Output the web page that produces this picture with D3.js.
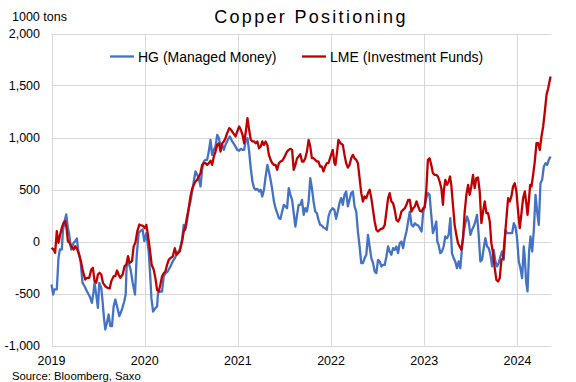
<!DOCTYPE html>
<html><head><meta charset="utf-8">
<script src="https://cdn.jsdelivr.net/npm/d3@7"></script>
<style>
body{margin:0;background:#fff}
svg{display:block}
text{font-family:"Liberation Sans",Arial,sans-serif;fill:#000}
</style>
</head><body><svg id="c" width="576" height="382"></svg>
<script>
const title = "Copper Positioning";
const unitLabel = "1000 tons";
const sourceNote = "Source: Bloomberg, Saxo";
const seriesNames = ["HG (Managed Money)", "LME (Investment Funds)"];
const seriesColors = ["#4472C4", "#C00000"];
const yTicks = [-1000, -500, 0, 500, 1000, 1500, 2000];
const xTicks = [2019, 2020, 2021, 2022, 2023, 2024];

const hgYears = [
2019.000,2019.018,2019.032,2019.057,2019.075,2019.090,2019.111,2019.122,2019.140,2019.158,2019.176,2019.190,2019.211,2019.237,2019.254,2019.272,2019.290,2019.312,2019.333,2019.355,2019.380,2019.409,2019.434,2019.452,2019.462,2019.480,2019.498,2019.513,2019.534,2019.548,2019.563,2019.577,2019.595,2019.613,2019.631,2019.649,2019.667,2019.685,2019.703,2019.728,2019.756,2019.781,2019.796,2019.806,2019.828,2019.849,2019.871,2019.896,2019.914,2019.935,2019.961,2019.978,2019.996,
2020.018,2020.043,2020.061,2020.072,2020.090,2020.115,2020.133,2020.143,2020.168,2020.186,2020.204,2020.222,2020.247,2020.276,2020.301,2020.323,2020.348,2020.376,2020.401,2020.419,2020.437,2020.459,2020.473,2020.491,2020.509,2020.527,2020.545,2020.563,2020.581,2020.599,2020.616,2020.634,2020.652,2020.670,2020.688,2020.706,2020.724,2020.742,2020.760,2020.778,2020.796,2020.814,2020.832,2020.849,2020.867,2020.892,2020.914,2020.939,2020.964,2020.993,
2021.014,2021.032,2021.050,2021.067,2021.085,2021.103,2021.121,2021.138,2021.156,2021.174,2021.191,2021.209,2021.227,2021.245,2021.262,2021.280,2021.298,2021.316,2021.333,2021.351,2021.369,2021.387,2021.404,2021.422,2021.440,2021.457,2021.475,2021.493,2021.511,2021.528,2021.546,2021.564,2021.582,2021.599,2021.617,2021.635,2021.652,2021.670,2021.688,2021.706,2021.723,2021.741,2021.759,2021.777,2021.794,2021.812,2021.830,2021.848,2021.865,2021.883,2021.901,2021.918,2021.936,2021.954,2021.972,2021.989,
2022.018,2022.036,2022.054,2022.072,2022.090,2022.108,2022.126,2022.144,2022.162,2022.180,2022.198,2022.216,2022.234,2022.252,2022.270,2022.288,2022.306,2022.324,2022.342,2022.360,2022.378,2022.396,2022.414,2022.432,2022.450,2022.468,2022.486,2022.504,2022.522,2022.540,2022.558,2022.576,2022.594,2022.612,2022.629,2022.647,2022.665,2022.683,2022.701,2022.719,2022.737,2022.755,2022.773,2022.791,2022.809,2022.827,2022.845,2022.863,2022.881,2022.899,2022.917,2022.935,2022.953,2022.971,2022.989,
2023.004,2023.022,2023.039,2023.057,2023.075,2023.093,2023.111,2023.129,2023.140,2023.154,2023.172,2023.190,2023.208,2023.226,2023.244,2023.262,2023.280,2023.297,2023.315,2023.333,2023.351,2023.369,2023.387,2023.405,2023.423,2023.441,2023.459,2023.477,2023.495,2023.513,2023.530,2023.548,2023.566,2023.584,2023.602,2023.620,2023.638,2023.656,2023.674,2023.692,2023.710,2023.728,2023.746,2023.763,2023.781,2023.799,2023.817,2023.835,2023.853,2023.871,2023.889,2023.907,2023.925,2023.943,2023.961,2023.978,2023.996,
2024.014,2024.032,2024.050,2024.068,2024.079,2024.093,2024.108,2024.125,2024.140,2024.158,2024.176,2024.194,2024.211,2024.229,2024.247,2024.265,2024.283,2024.301,2024.319,2024.337,2024.355
];
const hgValues = [
-413,-510,-460,-461,-157,-77,-77,100,195,260,131,67,-77,-13,3,29,-109,-189,-397,-430,-478,-526,-590,-478,-397,-510,-638,-397,-446,-574,-734,-846,-782,-702,-814,-814,-622,-558,-622,-718,-654,-574,-510,-237,-205,-269,-397,-510,-141,83,106,115,3,
80,-96,-353,-545,-673,-641,-625,-497,-481,-481,-337,-305,-289,-240,-192,-160,-112,-80,16,160,112,224,320,385,481,577,673,641,609,529,689,769,785,785,865,978,833,881,913,1026,994,913,929,881,929,978,1010,962,929,881,
872,891,881,881,978,994,865,705,577,513,497,506,481,497,433,497,625,737,673,593,497,385,320,272,224,218,288,352,337,320,513,449,400,272,144,256,352,352,400,256,320,288,385,609,513,385,288,272,208,160,154,135,128,112,240,288,
320,304,218,288,368,417,353,449,481,337,401,465,481,337,288,96,-48,-208,-208,-160,-128,64,-48,-160,-208,-288,-304,-176,-192,-240,-224,-224,-144,-48,-96,-128,-64,-80,-48,-112,-16,0,-64,32,96,192,288,160,144,176,160,154,128,96,288,
330,417,465,449,256,80,128,192,0,-32,-112,-96,-48,48,32,64,224,-112,-160,-192,-256,-192,-256,-64,96,176,240,192,64,112,144,192,256,64,-192,-176,-64,32,-48,-64,-128,-240,-80,-192,-240,-208,-144,-96,-176,112,80,80,80,80,176,144,32,
-192,-256,-353,-48,-160,-385,-480,-96,48,-96,112,449,288,160,561,593,721,753,737,785,817
];

const lmeYears = [
2019.000,2019.022,2019.039,2019.057,2019.075,2019.093,2019.111,2019.129,2019.147,2019.161,2019.176,2019.194,2019.211,2019.237,2019.254,2019.276,2019.297,2019.319,2019.337,2019.362,2019.380,2019.405,2019.427,2019.444,2019.462,2019.480,2019.498,2019.516,2019.534,2019.552,2019.577,2019.602,2019.624,2019.642,2019.667,2019.685,2019.703,2019.720,2019.738,2019.763,2019.785,2019.803,2019.821,2019.839,2019.864,2019.882,2019.900,2019.921,2019.943,2019.964,2019.982,
2020.000,2020.018,2020.032,2020.054,2020.075,2020.097,2020.115,2020.133,2020.151,2020.168,2020.186,2020.204,2020.222,2020.240,2020.258,2020.276,2020.301,2020.323,2020.341,2020.358,2020.376,2020.401,2020.419,2020.437,2020.455,2020.473,2020.491,2020.509,2020.527,2020.545,2020.563,2020.581,2020.599,2020.616,2020.634,2020.652,2020.670,2020.688,2020.706,2020.724,2020.742,2020.760,2020.778,2020.796,2020.814,2020.832,2020.849,2020.867,2020.885,2020.907,2020.928,2020.950,2020.975,2020.993,
2021.014,2021.032,2021.050,2021.067,2021.085,2021.103,2021.121,2021.138,2021.156,2021.174,2021.191,2021.209,2021.227,2021.245,2021.262,2021.280,2021.298,2021.316,2021.333,2021.351,2021.369,2021.387,2021.404,2021.422,2021.440,2021.457,2021.475,2021.493,2021.511,2021.528,2021.546,2021.564,2021.582,2021.599,2021.617,2021.635,2021.652,2021.670,2021.688,2021.706,2021.723,2021.741,2021.759,2021.777,2021.794,2021.812,2021.830,2021.848,2021.865,2021.883,2021.901,2021.918,2021.936,2021.954,2021.972,2021.989,
2022.018,2022.036,2022.047,2022.065,2022.079,2022.101,2022.126,2022.144,2022.162,2022.180,2022.198,2022.216,2022.234,2022.252,2022.270,2022.288,2022.306,2022.324,2022.342,2022.360,2022.378,2022.396,2022.414,2022.432,2022.450,2022.468,2022.486,2022.504,2022.522,2022.540,2022.558,2022.576,2022.594,2022.612,2022.629,2022.647,2022.665,2022.683,2022.701,2022.719,2022.737,2022.755,2022.773,2022.791,2022.809,2022.827,2022.845,2022.863,2022.881,2022.899,2022.917,2022.935,2022.953,2022.971,2022.989,
2023.004,2023.022,2023.039,2023.057,2023.075,2023.093,2023.111,2023.129,2023.147,2023.165,2023.183,2023.201,2023.211,2023.226,2023.244,2023.262,2023.276,2023.290,2023.308,2023.326,2023.344,2023.362,2023.380,2023.398,2023.416,2023.434,2023.452,2023.470,2023.487,2023.505,2023.523,2023.541,2023.559,2023.577,2023.595,2023.613,2023.631,2023.649,2023.667,2023.685,2023.703,2023.720,2023.738,2023.756,2023.774,2023.792,2023.810,2023.828,2023.846,2023.864,2023.882,2023.900,2023.918,2023.935,2023.953,2023.971,2023.989,
2024.007,2024.025,2024.043,2024.061,2024.079,2024.097,2024.108,2024.122,2024.136,2024.151,2024.168,2024.186,2024.204,2024.222,2024.240,2024.258,2024.276,2024.294,2024.312,2024.330,2024.355
];
const lmeValues = [
-61,-77,-109,99,-13,67,131,180,196,131,3,-13,-45,-77,-45,-77,-125,-205,-285,-365,-349,-349,-269,-253,-381,-397,-317,-301,-317,-397,-430,-446,-452,-381,-333,-333,-279,-317,-349,-317,-237,-221,-141,-205,-189,-45,-13,99,163,154,150,
128,160,80,-64,-224,-272,-352,-465,-481,-416,-337,-305,-289,-224,-176,-160,-144,-64,-128,-112,-96,0,96,144,240,320,433,506,545,577,593,625,657,737,753,753,737,753,776,737,817,865,929,945,865,945,962,994,1042,1090,1074,1042,1010,1058,
1106,1074,1026,945,1058,1186,1074,978,962,962,945,962,897,913,962,929,962,929,833,785,753,737,737,689,753,769,776,801,833,865,881,891,881,689,737,801,817,840,769,769,801,865,978,913,801,801,785,769,769,721,721,673,721,753,753,801,
881,753,737,865,978,945,929,833,753,711,737,801,833,801,785,753,609,465,385,433,417,465,497,417,304,192,112,96,112,122,128,160,288,417,465,385,369,304,208,192,224,288,304,320,353,401,401,288,320,337,385,337,295,288,320,
330,497,785,801,737,657,641,641,625,577,513,353,497,593,545,577,625,545,353,160,64,-16,-48,-80,32,288,449,545,449,529,641,513,609,615,481,176,288,385,272,272,192,-16,-112,-256,-369,-385,-353,-176,-160,32,224,417,385,433,529,561,481,
288,128,272,417,481,353,256,385,545,529,641,769,945,945,881,1010,1106,1250,1410,1474,1587
];

const svg = d3.select("#c");
const x = d3.scaleLinear().domain([2019, 2024.36]).range([51.5, 551]);
const y = d3.scaleLinear().domain([-1000, 2000]).range([345.5, 33.5]);
const fmt = v => d3.format(",")(v).replace("\u2212", "-");
const gridColor = "#d9d9d9";

// horizontal gridlines
svg.append("g").selectAll("line").data(yTicks).join("line")
  .attr("x1", x(2019)).attr("x2", x.range()[1])
  .attr("y1", d => Math.round(y(d)) + 0.5).attr("y2", d => Math.round(y(d)) + 0.5)
  .attr("stroke", gridColor).attr("stroke-width", 1);
// vertical gridlines
svg.append("g").selectAll("line").data(xTicks).join("line")
  .attr("x1", d => Math.round(x(d)) + 0.5).attr("x2", d => Math.round(x(d)) + 0.5)
  .attr("y1", y(2000)).attr("y2", y(-1000))
  .attr("stroke", gridColor).attr("stroke-width", 1);

// y tick labels
svg.append("g").selectAll("text").data(yTicks).join("text")
  .attr("x", 40).attr("y", d => y(d))
  .attr("text-anchor", "end").attr("dominant-baseline", "central")
  .style("font-size", "12.5px").text(fmt);
// x tick labels
svg.append("g").selectAll("text").data(xTicks).join("text")
  .attr("x", d => x(d)).attr("y", 361)
  .attr("text-anchor", "middle").attr("dominant-baseline", "central")
  .style("font-size", "12.5px").text(d => d);

// titles
svg.append("text").attr("x", 311).attr("y", 17).attr("text-anchor", "middle")
  .attr("dominant-baseline", "central").style("font-size", "18px")
  .style("letter-spacing", "2.3px").text(title);
svg.append("text").attr("x", 12).attr("y", 17)
  .attr("dominant-baseline", "central").style("font-size", "12.5px").text(unitLabel);
svg.append("text").attr("x", 12).attr("y", 376)
  .attr("dominant-baseline", "central").style("font-size", "11.3px").text(sourceNote);

// series
const line = d3.line().x(d => x(d[0])).y(d => y(d[1]));
const series = [
  d3.zip(hgYears, hgValues),
  d3.zip(lmeYears, lmeValues)
];
series.forEach((s, i) => {
  svg.append("path").datum(s)
    .attr("fill", "none").attr("stroke", seriesColors[i])
    .attr("stroke-width", 2.3).attr("stroke-linejoin", "round")
    .attr("d", line);
});

// legend
const legendX = [110, 302];
seriesNames.forEach((name, i) => {
  const g = svg.append("g");
  g.append("line").attr("x1", legendX[i]).attr("x2", legendX[i] + 24)
    .attr("y1", 56.5).attr("y2", 56.5)
    .attr("stroke", seriesColors[i]).attr("stroke-width", 2.3);
  g.append("text").attr("x", legendX[i] + 28).attr("y", 56.5)
    .attr("dominant-baseline", "central").style("font-size", "14px").text(name);
});
</script>
</body></html>
